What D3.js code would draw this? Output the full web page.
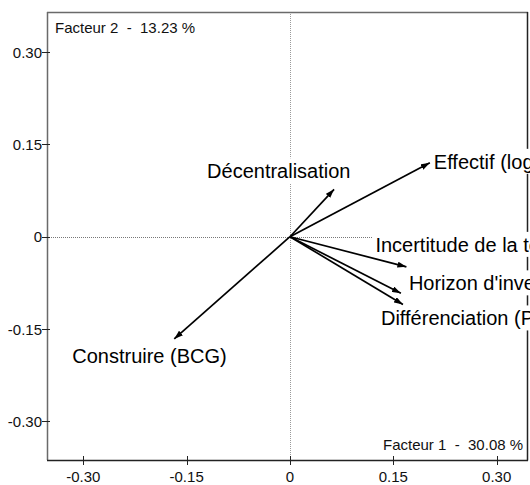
<!DOCTYPE html>
<html>
<head>
<meta charset="utf-8">
<script src="https://cdn.jsdelivr.net/npm/d3@7"></script>
<style>
  html, body { margin: 0; padding: 0; background: #fff; }
  svg { display: block; font-family: "Liberation Sans", Arial, sans-serif; }
</style>
</head>
<body>
<svg id="chart" width="530" height="485"></svg>
<script>
// Variables projected on the first factorial plane
const variables = ["Effectif (log)", "Décentralisation", "Incertitude de la technologie",
                   "Horizon d'investissement", "Différenciation (Porter)", "Construire (BCG)"];
const factor1 = [0.203, 0.064, 0.169, 0.161, 0.164, -0.168];
const factor2 = [0.120, 0.077, -0.049, -0.092, -0.110, -0.166];

// Label placement relative to each arrow tip (px)
const labelDx = [4, -127, -31, 8, -22, -102];
const labelDy = [6, -11, -15, -3, 21, 24];

const xTicks = [-0.30, -0.15, 0, 0.15, 0.30];
const yTicks = [0.30, 0.15, 0, -0.15, -0.30];
const xTickLabels = ["-0.30", "-0.15", "0", "0.15", "0.30"];
const yTickLabels = ["0.30", "0.15", "0", "-0.15", "-0.30"];
const axisTitles = ["Facteur 1  -  30.08 %", "Facteur 2  -  13.23 %"];

const plotLeft = 47, plotRight = 528, plotTop = 12, plotBottom = 460;
const x = d3.scaleLinear().domain([-0.3527, 0.3455]).range([plotLeft, plotRight]);
const y = d3.scaleLinear().domain([-0.3627, 0.3650]).range([plotBottom, plotTop]);

const svg = d3.select("#chart");

// Origin reference lines
svg.append("line")
  .attr("x1", Math.round(x(0)) + 0.5).attr("x2", Math.round(x(0)) + 0.5)
  .attr("y1", plotTop).attr("y2", plotBottom)
  .attr("stroke", "#9a9a9a").attr("stroke-width", 1).attr("stroke-dasharray", "1,1");
svg.append("line")
  .attr("x1", plotLeft).attr("x2", plotRight)
  .attr("y1", Math.round(y(0)) + 0.5).attr("y2", Math.round(y(0)) + 0.5)
  .attr("stroke", "#777").attr("stroke-width", 1).attr("stroke-dasharray", "1,1");

// Frame
const frame = svg.append("g").attr("fill", "none").attr("stroke-width", 1.5);
frame.append("line").attr("x1", plotLeft + 0.5).attr("x2", plotLeft + 0.5)
  .attr("y1", plotTop).attr("y2", plotBottom).attr("stroke", "#6a6a6a");
frame.append("line").attr("x1", plotLeft).attr("x2", plotRight)
  .attr("y1", plotTop + 0.5).attr("y2", plotTop + 0.5).attr("stroke", "#6a6a6a");
frame.append("line").attr("x1", plotRight - 0.5).attr("x2", plotRight - 0.5)
  .attr("y1", plotTop).attr("y2", plotBottom + 0.5).attr("stroke", "#222");
frame.append("line").attr("x1", plotLeft).attr("x2", plotRight)
  .attr("y1", plotBottom + 0.5).attr("y2", plotBottom + 0.5).attr("stroke", "#222");

// Bottom axis: ticks crossing the frame
const xAxis = svg.append("g");
xAxis.selectAll("line").data(xTicks).join("line")
  .attr("x1", d => Math.round(x(d)) + 0.5).attr("x2", d => Math.round(x(d)) + 0.5)
  .attr("y1", plotBottom - 4).attr("y2", plotBottom + 5)
  .attr("stroke", "#222").attr("stroke-width", 1);
xAxis.selectAll("text").data(xTicks).join("text")
  .attr("x", d => x(d)).attr("y", plotBottom + 22)
  .attr("text-anchor", "middle").attr("font-size", 15).attr("fill", "#111")
  .text((d, i) => xTickLabels[i]);

// Left axis
const yAxis = svg.append("g");
yAxis.selectAll("line").data(yTicks).join("line")
  .attr("x1", plotLeft - 5).attr("x2", plotLeft + 3)
  .attr("y1", d => Math.round(y(d)) + 0.5).attr("y2", d => Math.round(y(d)) + 0.5)
  .attr("stroke", "#222").attr("stroke-width", 1);
yAxis.selectAll("text").data(yTicks).join("text")
  .attr("x", plotLeft - 5).attr("y", d => y(d) + 5.5)
  .attr("text-anchor", "end").attr("font-size", 15).attr("fill", "#111")
  .text((d, i) => yTickLabels[i]);

// Axis titles inside the frame
svg.append("text").attr("x", 383).attr("y", 450).attr("font-size", 15).attr("fill", "#111")
  .attr("xml:space", "preserve").style("white-space", "pre")
  .text(axisTitles[0]);
svg.append("text").attr("x", 55).attr("y", 33).attr("font-size", 15).attr("fill", "#111")
  .attr("xml:space", "preserve").style("white-space", "pre")
  .text(axisTitles[1]);

// Arrowhead marker
svg.append("defs").append("marker")
  .attr("id", "head").attr("viewBox", "0 0 9 6")
  .attr("refX", 9).attr("refY", 3)
  .attr("markerWidth", 9).attr("markerHeight", 6)
  .attr("markerUnits", "userSpaceOnUse").attr("orient", "auto")
  .append("path").attr("d", "M0,0 L9,3 L0,6 Z").attr("fill", "#000");

const rows = variables.map((name, i) => ({ name, fx: factor1[i], fy: factor2[i], dx: labelDx[i], dy: labelDy[i] }));

// Layers: white label boxes over the reference lines, then arrows, then label text
const boxLayer = svg.append("g");
const arrowLayer = svg.append("g");
const textLayer = svg.append("g");

textLayer.selectAll("text").data(rows).join("text")
  .attr("x", d => x(d.fx) + d.dx).attr("y", d => y(d.fy) + d.dy)
  .attr("font-size", 20).attr("fill", "#000")
  .text(d => d.name)
  .each(function () {
    const b = this.getBBox();
    boxLayer.append("rect")
      .attr("x", b.x - 3).attr("y", b.y - 2)
      .attr("width", b.width + 6).attr("height", b.height + 3)
      .attr("fill", "#fff");
  });

arrowLayer.selectAll("line").data(rows).join("line")
  .attr("x1", x(0)).attr("y1", y(0))
  .attr("x2", d => x(d.fx)).attr("y2", d => y(d.fy))
  .attr("stroke", "#000").attr("stroke-width", 1.7)
  .attr("marker-end", "url(#head)");
</script>
</body>
</html>
